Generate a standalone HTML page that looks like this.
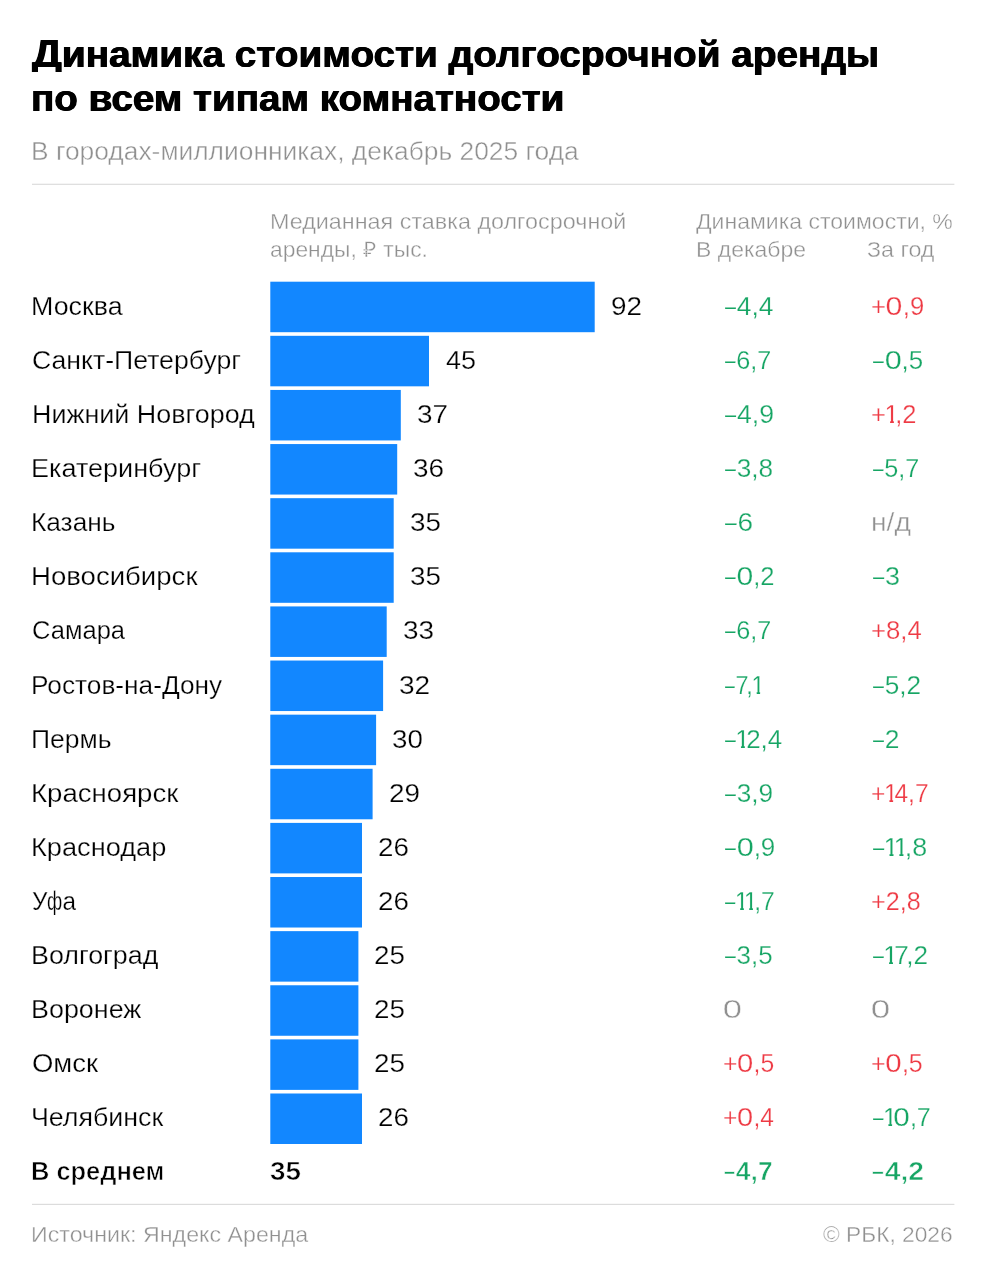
<!DOCTYPE html>
<html lang="ru"><head><meta charset="utf-8"><title>Динамика стоимости долгосрочной аренды</title>
<style>
html,body{margin:0;padding:0;background:#fff;}
body{width:986px;height:1280px;position:relative;overflow:hidden;font-family:"Liberation Sans",sans-serif;}
.x{position:absolute;white-space:nowrap;line-height:40px;height:40px;transform-origin:0 0;}
.x i{font-style:normal;display:inline-block;margin:0 -3.5px 0 -1.4px;clip-path:polygon(0 0,.37em 0,.37em 100%,.22em 100%,.22em 22px,0 22px);}
.x em{font-style:normal;display:inline-block;transform:scaleX(.75);transform-origin:0 50%;margin-right:-2.8px;}
.x b{font-weight:inherit;display:inline-block;transform:scaleX(1.18);margin:0 1.25px;}
.x u{text-decoration:none;margin-left:-2.5px;}
.x .D{display:inline-block;font-size:39px;line-height:38px;clip-path:inset(-3px -2px 0.5px -2px);}
.x s{text-decoration:none;display:inline-block;transform:scaleX(.76);margin:0 -2.5px;}
svg{position:absolute;left:0;top:0;}
.t{font-size:36px;font-weight:bold;color:#000;text-shadow:0.5px 0 0 #000,-0.5px 0 0 #000;}
.s{font-size:25px;color:#909090;-webkit-text-stroke:0.4px #fff;}
.h{font-size:21.5px;color:#909090;-webkit-text-stroke:0.35px #fff;}
.c{font-size:25px;color:#000;-webkit-text-stroke:0.25px #fff;}
.cb{font-size:25px;color:#000;font-weight:bold;-webkit-text-stroke:0.6px #fff;}
.v{font-size:25.8px;color:#000;-webkit-text-stroke:0.25px #fff;}
.vb{font-size:25.8px;color:#000;font-weight:bold;-webkit-text-stroke:0.6px #fff;}
.g{font-size:25.8px;color:#16a564;-webkit-text-stroke:0.25px #fff;}
.r{font-size:25.8px;color:#ee3a44;-webkit-text-stroke:0.25px #fff;}
.n{font-size:25.8px;color:#909090;-webkit-text-stroke:0.4px #fff;}
.gb{font-size:25.8px;font-weight:bold;color:#16a564;-webkit-text-stroke:0.6px #fff;}
</style></head><body>

<svg width="986" height="1280" viewBox="0 0 986 1280">
<rect x="32" y="183.7" width="922.4" height="1.2" fill="#dcdcdc"/>
<rect x="32" y="1203.8" width="922.4" height="1.2" fill="#dcdcdc"/>
<rect x="270.3" y="281.70" width="324.4" height="50.5" fill="#1287ff"/>
<rect x="270.3" y="335.82" width="158.7" height="50.5" fill="#1287ff"/>
<rect x="270.3" y="389.94" width="130.5" height="50.5" fill="#1287ff"/>
<rect x="270.3" y="444.06" width="126.9" height="50.5" fill="#1287ff"/>
<rect x="270.3" y="498.18" width="123.4" height="50.5" fill="#1287ff"/>
<rect x="270.3" y="552.30" width="123.4" height="50.5" fill="#1287ff"/>
<rect x="270.3" y="606.42" width="116.4" height="50.5" fill="#1287ff"/>
<rect x="270.3" y="660.54" width="112.8" height="50.5" fill="#1287ff"/>
<rect x="270.3" y="714.66" width="105.8" height="50.5" fill="#1287ff"/>
<rect x="270.3" y="768.78" width="102.3" height="50.5" fill="#1287ff"/>
<rect x="270.3" y="822.90" width="91.7" height="50.5" fill="#1287ff"/>
<rect x="270.3" y="877.02" width="91.7" height="50.5" fill="#1287ff"/>
<rect x="270.3" y="931.14" width="88.1" height="50.5" fill="#1287ff"/>
<rect x="270.3" y="985.26" width="88.1" height="50.5" fill="#1287ff"/>
<rect x="270.3" y="1039.38" width="88.1" height="50.5" fill="#1287ff"/>
<rect x="270.3" y="1093.50" width="91.7" height="50.5" fill="#1287ff"/>
</svg>
<div class="x t" style="left:31.83px;top:34.60px;transform:scaleX(1.0759);"><span class="D">Д</span>инамика стоимости долгосрочной аренды</div>
<div class="x t" style="left:31.35px;top:79.10px;transform:scaleX(1.0722);">по всем типам комнатности</div>
<div class="x s" style="left:31.06px;top:131.30px;transform:scaleX(1.0547);">В городах-миллионниках, декабрь 2025 года</div>
<div class="x h" style="left:269.73px;top:201.50px;transform:scaleX(1.0858);">Медианная ставка долгосрочной</div>
<div class="x h" style="left:270.25px;top:230.30px;transform:scaleX(1.0622);">аренды, ₽ тыс.</div>
<div class="x h" style="left:696.20px;top:201.50px;transform:scaleX(1.0714);">Динамика стоимости, %</div>
<div class="x h" style="left:696.31px;top:230.30px;transform:scaleX(1.0696);">В декабре</div>
<div class="x h" style="left:866.87px;top:230.30px;transform:scaleX(1.0818);">За год</div>
<div class="x h" style="left:30.84px;top:1215.30px;transform:scaleX(1.0798);">Источник: Яндекс Аренда</div>
<div class="x h" style="left:822.64px;top:1215.30px;transform:scaleX(1.0575);">© РБК, 2026</div>
<div class="x c" style="left:31.44px;top:285.80px;transform:scaleX(1.0726);">Москва</div>
<div class="x v" style="left:610.95px;top:285.80px;transform:scaleX(1.0807);">92</div>
<div class="x g" style="left:724.77px;top:285.80px;transform:scaleX(1.0238);"><em>–</em>4,4</div>
<div class="x r" style="left:871.36px;top:285.80px;transform:scaleX(0.9942);">+<b>0</b>,9</div>
<div class="x c" style="left:31.70px;top:339.90px;transform:scaleX(1.0658);">Санкт-Петербург</div>
<div class="x v" style="left:445.81px;top:339.90px;transform:scaleX(1.0456);">45</div>
<div class="x g" style="left:724.59px;top:339.90px;transform:scaleX(0.9784);"><em>–</em>6,7</div>
<div class="x g" style="left:872.66px;top:339.90px;transform:scaleX(1.0043);"><em>–</em><b>0</b>,5</div>
<div class="x c" style="left:31.76px;top:394.00px;transform:scaleX(1.0761);">Нижний Новгород</div>
<div class="x v" style="left:416.54px;top:394.00px;transform:scaleX(1.0796);">37</div>
<div class="x g" style="left:724.58px;top:394.00px;transform:scaleX(1.0325);"><em>–</em>4,9</div>
<div class="x r" style="left:871.14px;top:394.00px;transform:scaleX(0.9859);">+<i>1</i>,2</div>
<div class="x c" style="left:31.40px;top:448.10px;transform:scaleX(1.0815);">Екатеринбург</div>
<div class="x v" style="left:413.15px;top:448.10px;transform:scaleX(1.0813);">36</div>
<div class="x g" style="left:724.58px;top:448.10px;transform:scaleX(1.0160);"><em>–</em>3,8</div>
<div class="x g" style="left:872.90px;top:448.10px;transform:scaleX(0.9785);"><em>–</em>5,7</div>
<div class="x c" style="left:30.98px;top:502.20px;transform:scaleX(1.0506);">Казань</div>
<div class="x v" style="left:409.61px;top:502.20px;transform:scaleX(1.0760);">35</div>
<div class="x g" style="left:724.85px;top:502.20px;transform:scaleX(1.0848);"><em>–</em>6</div>
<div class="x n" style="left:870.94px;top:502.20px;transform:scaleX(1.0924);">н/д</div>
<div class="x c" style="left:31.20px;top:556.30px;transform:scaleX(1.1026);">Новосибирск</div>
<div class="x v" style="left:409.61px;top:556.30px;transform:scaleX(1.0760);">35</div>
<div class="x g" style="left:724.77px;top:556.30px;transform:scaleX(0.9902);"><em>–</em><b>0</b>,2</div>
<div class="x g" style="left:872.89px;top:556.30px;transform:scaleX(1.0418);"><em>–</em>3</div>
<div class="x c" style="left:31.63px;top:610.40px;transform:scaleX(1.0206);">Самара</div>
<div class="x v" style="left:402.57px;top:610.40px;transform:scaleX(1.0820);">33</div>
<div class="x g" style="left:724.59px;top:610.40px;transform:scaleX(0.9784);"><em>–</em>6,7</div>
<div class="x r" style="left:871.21px;top:610.40px;transform:scaleX(0.9969);">+8,4</div>
<div class="x c" style="left:31.32px;top:664.50px;transform:scaleX(1.0498);">Ростов-на-Дону</div>
<div class="x v" style="left:399.26px;top:664.50px;transform:scaleX(1.0878);">32</div>
<div class="x g" style="left:724.88px;top:664.50px;transform:scaleX(0.9090);"><em>–</em>7<u>,</u><i>1</i></div>
<div class="x g" style="left:872.66px;top:664.50px;transform:scaleX(1.0164);"><em>–</em>5,2</div>
<div class="x c" style="left:31.32px;top:718.60px;transform:scaleX(1.0607);">Пермь</div>
<div class="x v" style="left:392.02px;top:718.60px;transform:scaleX(1.0737);">30</div>
<div class="x g" style="left:724.87px;top:718.60px;transform:scaleX(1.0069);"><em>–</em><i>1</i>2,4</div>
<div class="x g" style="left:872.66px;top:718.60px;transform:scaleX(1.0232);"><em>–</em>2</div>
<div class="x c" style="left:31.19px;top:772.70px;transform:scaleX(1.1038);">Красноярск</div>
<div class="x v" style="left:388.63px;top:772.70px;transform:scaleX(1.0793);">29</div>
<div class="x g" style="left:724.68px;top:772.70px;transform:scaleX(1.0153);"><em>–</em>3,9</div>
<div class="x r" style="left:871.44px;top:772.70px;transform:scaleX(0.9527);">+<i>1</i>4,7</div>
<div class="x c" style="left:31.12px;top:826.80px;transform:scaleX(1.0874);">Краснодар</div>
<div class="x v" style="left:377.84px;top:826.80px;transform:scaleX(1.0750);">26</div>
<div class="x g" style="left:724.68px;top:826.80px;transform:scaleX(1.0076);"><em>–</em><b>0</b>,9</div>
<div class="x g" style="left:872.66px;top:826.80px;transform:scaleX(1.0424);"><em>–</em><i>1</i><i>1</i>,8</div>
<div class="x c" style="left:31.97px;top:880.90px;transform:scaleX(0.9730);">У<s>ф</s>а</div>
<div class="x v" style="left:377.84px;top:880.90px;transform:scaleX(1.0750);">26</div>
<div class="x g" style="left:724.50px;top:880.90px;transform:scaleX(0.9575);"><em>–</em><i>1</i><i>1</i>,7</div>
<div class="x r" style="left:871.16px;top:880.90px;transform:scaleX(0.9747);">+2,8</div>
<div class="x c" style="left:31.04px;top:935.00px;transform:scaleX(1.0741);">Волгоград</div>
<div class="x v" style="left:374.40px;top:935.00px;transform:scaleX(1.0782);">25</div>
<div class="x g" style="left:724.58px;top:935.00px;transform:scaleX(1.0039);"><em>–</em>3,5</div>
<div class="x g" style="left:872.90px;top:935.00px;transform:scaleX(1.0138);"><em>–</em><i>1</i>7<u>,</u>2</div>
<div class="x c" style="left:31.26px;top:989.10px;transform:scaleX(1.0753);">Воронеж</div>
<div class="x v" style="left:374.40px;top:989.10px;transform:scaleX(1.0782);">25</div>
<div class="x n" style="left:723.06px;top:989.10px;transform:scaleX(1.1362);"><b>0</b></div>
<div class="x n" style="left:871.34px;top:989.10px;transform:scaleX(1.1508);"><b>0</b></div>
<div class="x c" style="left:31.57px;top:1043.20px;transform:scaleX(1.0992);">Омск</div>
<div class="x v" style="left:374.40px;top:1043.20px;transform:scaleX(1.0782);">25</div>
<div class="x r" style="left:722.86px;top:1043.20px;transform:scaleX(0.9588);">+<b>0</b>,5</div>
<div class="x r" style="left:871.19px;top:1043.20px;transform:scaleX(0.9669);">+<b>0</b>,5</div>
<div class="x c" style="left:31.44px;top:1097.30px;transform:scaleX(1.0712);">Челябинск</div>
<div class="x v" style="left:377.84px;top:1097.30px;transform:scaleX(1.0750);">26</div>
<div class="x r" style="left:722.93px;top:1097.30px;transform:scaleX(0.9524);">+<b>0</b>,4</div>
<div class="x g" style="left:872.90px;top:1097.30px;transform:scaleX(0.9732);"><em>–</em><i>1</i><b>0</b>,7</div>
<div class="x cb" style="left:30.96px;top:1151.00px;transform:scaleX(1.0172);">В среднем</div>
<div class="x vb" style="left:270.27px;top:1151.00px;transform:scaleX(1.0789);">35</div>
<div class="x gb" style="left:723.82px;top:1151.00px;transform:scaleX(1.0245);"><em>–</em>4,7</div>
<div class="x gb" style="left:872.12px;top:1151.00px;transform:scaleX(1.0971);"><em>–</em>4,2</div>

</body></html>
